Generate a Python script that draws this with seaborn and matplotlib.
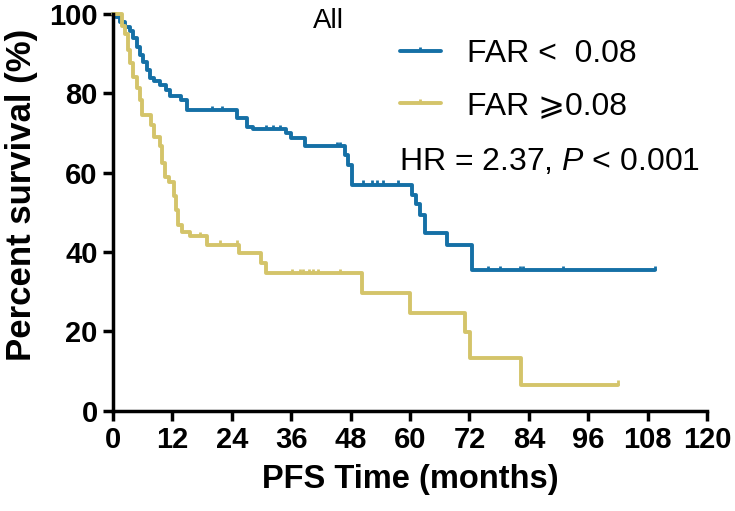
import numpy as np
import pandas as pd
import matplotlib
matplotlib.use("Agg")
import matplotlib.pyplot as plt
from matplotlib import font_manager
from matplotlib.lines import Line2D
from matplotlib.path import Path
import seaborn as sns

# step points of the KM curves (months, percent survival)
low_time = [0, 0.7, 1.4, 2.4, 3.4, 4.1, 4.8, 5.5, 6.1, 6.8, 7.5, 8.2, 9.5, 10.8, 11.5,
            13.8, 14.9, 25.0, 27.0, 28.3, 35.0, 36.0, 38.8, 46.9, 47.5, 48.2, 60.3,
            61.2, 62.0, 63.0, 67.4, 72.6, 109.5]
low_surv = [100, 99.2, 98.0, 96.8, 95.6, 93.9, 91.8, 89.7, 88.0, 85.9, 83.9, 83.0, 82.0,
            80.9, 79.2, 78.3, 75.8, 73.7, 71.6, 70.9, 69.9, 68.7, 66.6, 64.5, 62.0, 57.0,
            54.3, 52.0, 49.3, 44.8, 41.8, 35.4, 35.4]
low_cens = [20.0, 22.0, 31.0, 32.4, 33.7, 45.2, 45.9, 50.6, 52.3, 53.3, 54.6, 57.6,
            75.8, 78.2, 82.2, 82.9, 91.0, 109.5]

high_time = [0, 1.8, 2.5, 3.1, 3.5, 4.1, 4.8, 5.4, 5.8, 7.6, 8.2, 9.5, 10.0, 10.6, 11.3,
             12.4, 12.8, 13.2, 13.9, 15.6, 18.9, 25.5, 30.0, 31.0, 50.2, 60.0, 71.1,
             72.1, 82.5, 102.1]
high_surv = [100, 97.0, 95.0, 91.0, 87.6, 84.2, 81.3, 78.3, 74.6, 72.0, 69.1, 66.6, 62.4,
             59.0, 57.7, 54.0, 50.5, 46.8, 45.1, 43.9, 41.8, 39.7, 37.1, 34.6, 29.6, 24.7,
             19.9, 13.2, 6.5, 6.5]
high_cens = [17.6, 21.6, 25.0, 36.1, 37.8, 38.4, 39.5, 40.5, 41.5, 45.9, 102.1]

groups = ["FAR <  0.08", "FAR \u2A7E0.08"]
colors = ["#1570A6", "#D4C46A"]
x_ticks = [0, 12, 24, 36, 48, 60, 72, 84, 96, 108, 120]
y_ticks = [0, 20, 40, 60, 80, 100]

installed = {f.name for f in font_manager.fontManager.ttflist}
narrow = "Liberation Sans Narrow" if "Liberation Sans Narrow" in installed else "Liberation Sans"

sns.set_style("ticks")
plt.rcParams["font.family"] = ["Liberation Sans", "DejaVu Sans"]
plt.rcParams["mathtext.fontset"] = "custom"
plt.rcParams["mathtext.rm"] = "Liberation Sans"
plt.rcParams["mathtext.it"] = "Liberation Sans:italic"
for key in ["text.color", "axes.labelcolor", "xtick.color", "ytick.color", "axes.edgecolor"]:
    plt.rcParams[key] = "black"

curves = pd.concat([
    pd.DataFrame({"time": low_time, "surv": low_surv, "group": groups[0]}),
    pd.DataFrame({"time": high_time, "surv": high_surv, "group": groups[1]}),
])


def surv_at(times, steps_t, steps_s):
    idx = np.searchsorted(steps_t, times, side="right") - 1
    return np.array(steps_s)[idx]


cens = pd.concat([
    pd.DataFrame({"time": low_cens, "surv": surv_at(low_cens, low_time, low_surv), "group": groups[0]}),
    pd.DataFrame({"time": high_cens, "surv": surv_at(high_cens, high_time, high_surv), "group": groups[1]}),
])

# censor tick that sticks up from the line only
tick_up = Path([(0, 0), (0, 1)])

fig = plt.figure(figsize=(7.35, 5.11), dpi=100)
ax = fig.add_axes([0.1537, 0.1965, 0.8083, 0.7761])

palette = dict(zip(groups, colors))
sns.lineplot(data=curves, x="time", y="surv", hue="group", palette=palette,
             estimator=None, sort=False, drawstyle="steps-post", linewidth=2.8,
             legend=False, ax=ax, clip_on=False)
sns.scatterplot(data=cens, x="time", y="surv", hue="group", palette=palette,
                marker=tick_up, s=40, linewidth=2, edgecolor="face",
                legend=False, ax=ax, clip_on=False)

ax.set_xlim(0, 120)
ax.set_ylim(0, 100)
ax.set_xticks(x_ticks)
ax.set_yticks(y_ticks)
ax.set_xticklabels(x_ticks, fontfamily=narrow, fontweight="bold", fontsize=21)
ax.set_yticklabels(y_ticks, fontfamily=narrow, fontweight="bold", fontsize=21)
ax.tick_params(width=2.5, length=7, color="black", pad=4)
for side in ["left", "bottom"]:
    ax.spines[side].set_linewidth(2.5)
sns.despine(ax=ax)
ax.set_xlabel("PFS Time (months)", fontfamily=narrow, fontweight="bold", fontsize=23.5, labelpad=7)
ax.set_ylabel("Percent survival (%)", fontweight="bold", fontsize=25)
ax.yaxis.set_label_coords(-0.126, 0.545)

ax.text(0.426, 0.945, "All", transform=fig.transFigure, fontsize=20, ha="left")

handles = [Line2D([0, 0.5, 1], [0, 0, 0], color=c, lw=2.8, marker=tick_up, markersize=6,
                  markevery=[1], markeredgewidth=2) for c in colors]
leg = ax.legend(handles, groups, loc="upper left", bbox_to_anchor=(0.522, 0.955),
                bbox_transform=fig.transFigure, frameon=False, fontsize=23,
                handlelength=1.3, handletextpad=0.8, labelspacing=0.7, borderpad=0)
ax.text(0.543, 0.667, "HR = 2.37, $\\it{P}$ < 0.001", transform=fig.transFigure, fontsize=23)

fig.savefig("out.png", dpi=100)
